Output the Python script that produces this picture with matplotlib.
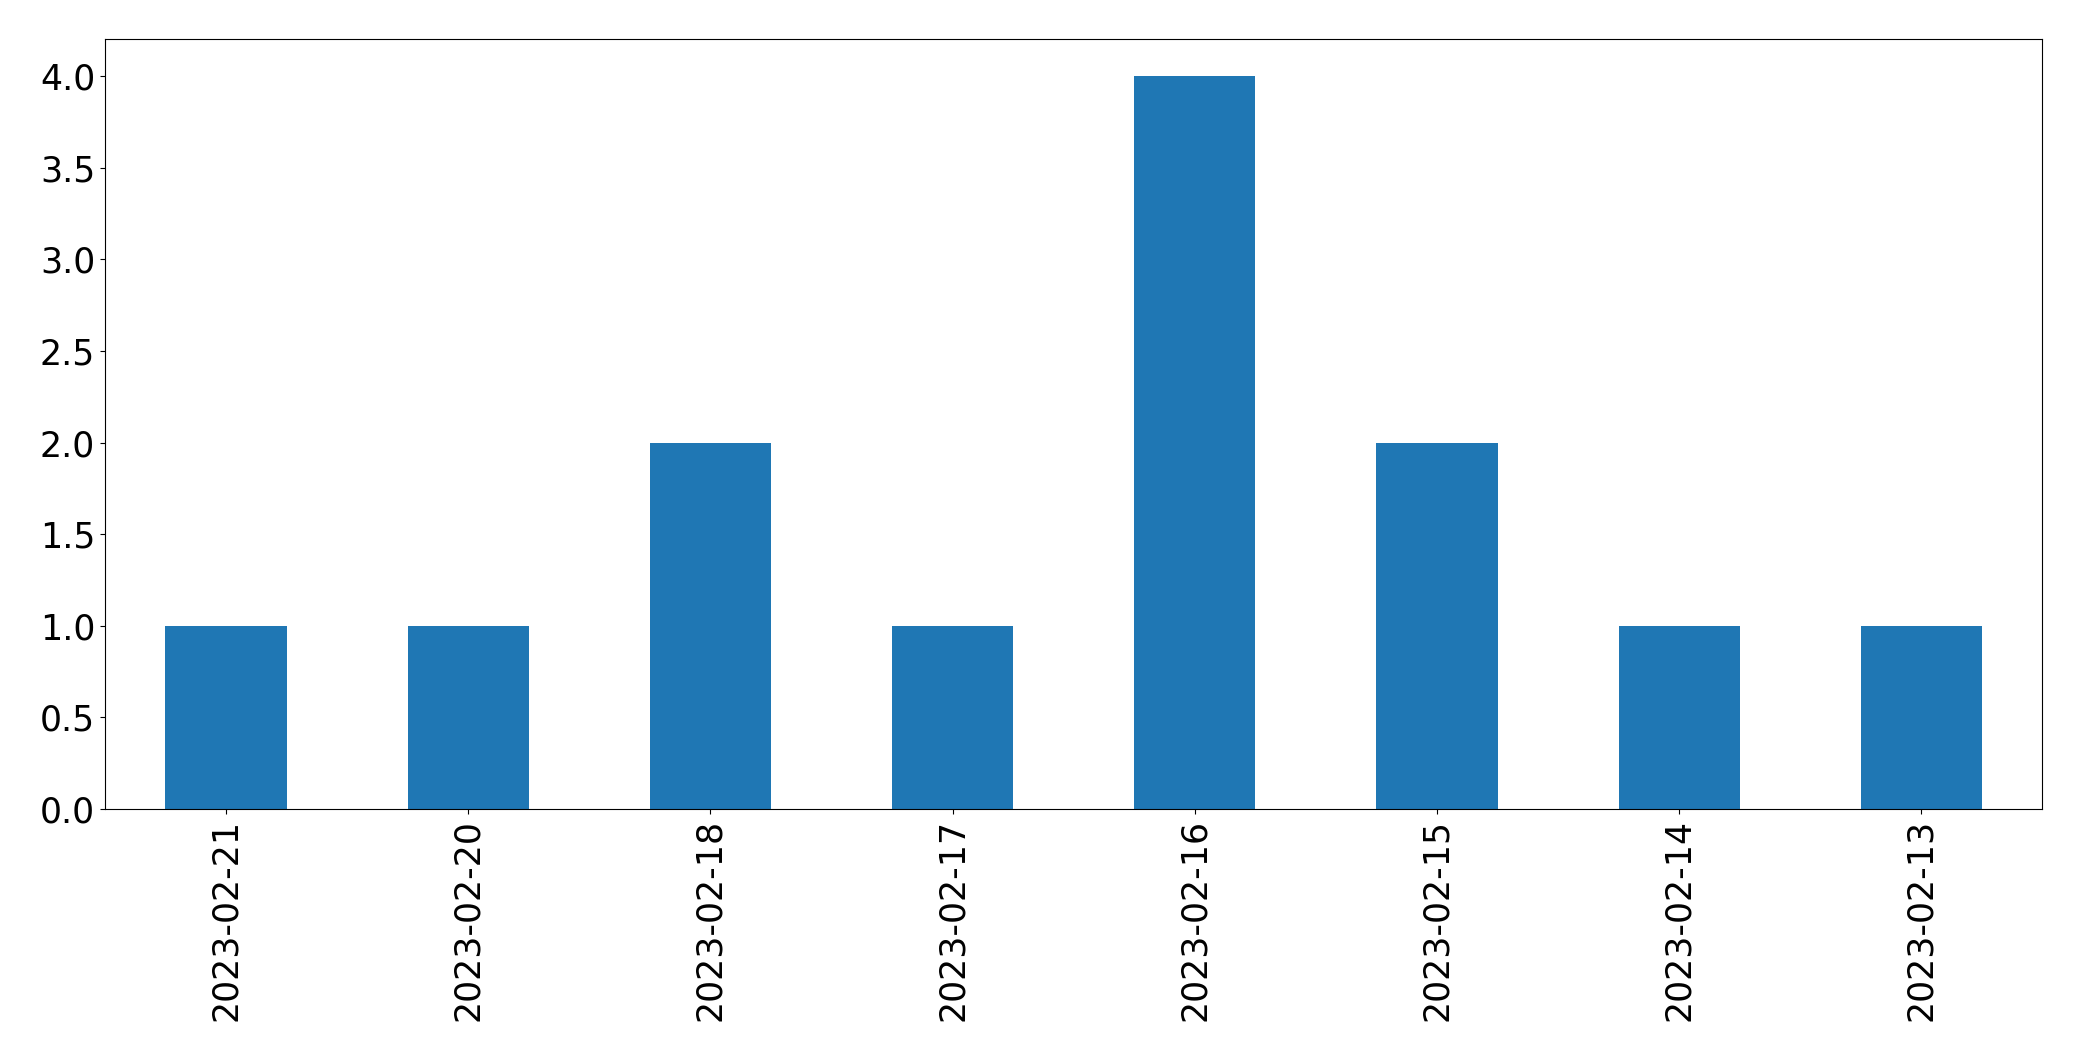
import matplotlib
matplotlib.use("Agg")
import matplotlib.pyplot as plt
import pandas as pd

# Data
dates = ["2023-02-21", "2023-02-20", "2023-02-18", "2023-02-17",
         "2023-02-16", "2023-02-15", "2023-02-14", "2023-02-13"]
counts = [1, 1, 2, 1, 4, 2, 1, 1]

plt.rcParams['font.size'] = 25

s = pd.Series(counts, index=dates)

fig, ax = plt.subplots(figsize=(20.82, 10.61), dpi=100)
s.plot(kind='bar', ax=ax, color='#1f77b4')
ax.set_xlabel('')
fig.subplots_adjust(left=0.0504, right=0.981, top=0.9628, bottom=0.2375)

fig.savefig("out.png", dpi=100)
